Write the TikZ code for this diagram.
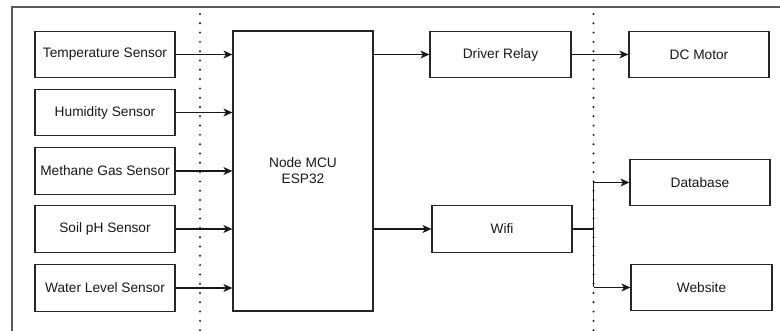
\documentclass[tikz,border=0pt]{standalone}
\usepackage{fontspec}
\setmainfont{Liberation Sans}
\usetikzlibrary{arrows.meta}
\begin{document}
\begin{tikzpicture}[x=1pt,y=-1pt,
  box/.style={draw=black!85,line width=1.2pt,rectangle,minimum width=140pt,minimum height=46.5pt,inner sep=0pt,font=\fontsize{13.7}{16}\selectfont,text=black!90,align=center},
  arr/.style={draw=black!90,line width=1.2pt,-{Stealth[length=9pt,width=8pt,inset=2.5pt]}},
  ln/.style={draw=black!90,line width=1.2pt},
  dots/.style={draw=black!90,line width=2.2pt,line cap=round,dash pattern=on 0pt off 9.3pt},
  frame/.style={draw=black!65,line width=1.5pt}]
\useasboundingbox (0,0) rectangle (780,331);
\fill[white] (0,0) rectangle (780,331);
% frame
\draw[frame] (12,331) -- (12,7) -- (780,7);
% dotted separators
\draw[dots] (200,14) -- (200,331);
\draw[dots] (593.5,14) -- (593.5,331);
% sensors
\node[box] (t) at (105,54.5) {Temperature Sensor};
\node[box] (h) at (105,112.5) {Humidity Sensor};
\node[box] (m) at (105,171) {Methane Gas Sensor};
\node[box] (s) at (105,229) {Soil pH Sensor};
\node[box] (wl) at (105,288) {Water Level Sensor};
% MCU
\node[box,minimum height=280pt] (mcu) at (303,171) {Node MCU\\ESP32};
% outputs
\node[box,minimum width=141pt] (dr) at (500.5,54.5) {Driver Relay};
\node[box] (dc) at (699,54.5) {DC Motor};
\node[box] (db) at (700,182.5) {Database};
\node[box] (wf) at (502,229) {Wifi};
\node[box,minimum width=141pt] (ws) at (701.5,287.5) {Website};
% sensor arrows
\foreach \n in {t,h,m,s,wl}{\draw[arr] (\n.east) -- (\n.east -| mcu.west);}
% MCU outputs
\draw[arr] (mcu.east |- dr) -- (dr.west);
\draw[arr] (mcu.east |- wf) -- (wf.west);
\draw[arr] (dr.east) -- (dc.west);
% wifi split
\coordinate (j) at (593.5,229);
\draw[ln] (wf.east) -- (j);
\draw[ln] (j |- db) -- (j |- ws);
\draw[arr] (j |- db) -- (db.west);
\draw[arr] (j |- ws) -- (ws.west);
\end{tikzpicture}
\end{document}
